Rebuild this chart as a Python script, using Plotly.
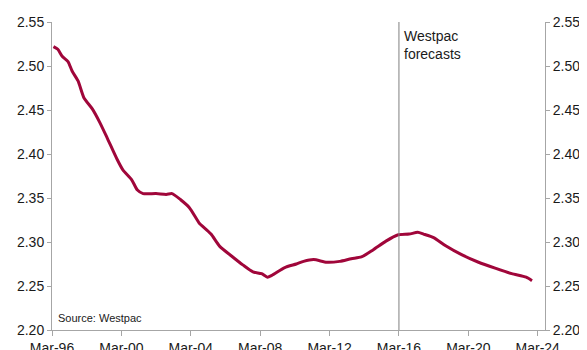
import plotly.graph_objects as go

dates = ["1996-04-01", "1996-07-01", "1996-10-01", "1997-02-01", "1997-05-01", "1997-09-01",
         "1998-01-01", "1998-07-01", "1998-12-01", "1999-05-01", "1999-12-01", "2000-04-01",
         "2000-10-01", "2001-02-01", "2001-06-01", "2002-03-01", "2002-10-01", "2003-02-01",
         "2003-08-01", "2004-02-01", "2004-09-01", "2004-11-01", "2005-05-01", "2005-11-01",
         "2006-08-01", "2007-03-01", "2007-10-01", "2008-04-01", "2008-08-01", "2008-11-01",
         "2009-08-01", "2010-04-01", "2010-09-01", "2011-04-01", "2012-01-01", "2012-10-01",
         "2013-06-01", "2014-01-01", "2014-09-01", "2015-06-01", "2016-02-01", "2016-10-01",
         "2017-04-01", "2017-08-01", "2018-03-01", "2018-11-01", "2019-11-01", "2020-10-01",
         "2021-10-01", "2022-09-01", "2023-07-01", "2023-11-01"]
values = [2.522, 2.519, 2.511, 2.505, 2.494, 2.483,
          2.464, 2.451, 2.436, 2.419, 2.394, 2.382,
          2.371, 2.359, 2.355, 2.355, 2.354, 2.355,
          2.348, 2.339, 2.321, 2.318, 2.309, 2.295,
          2.283, 2.274, 2.266, 2.264, 2.260, 2.262,
          2.271, 2.275, 2.278, 2.280, 2.277, 2.278,
          2.281, 2.283, 2.291, 2.301, 2.308, 2.309,
          2.311, 2.309, 2.305, 2.296, 2.285, 2.277,
          2.270, 2.264, 2.260, 2.256]

x_tickvals = ["1996-03-01", "2000-03-01", "2004-03-01", "2008-03-01",
              "2012-03-01", "2016-03-01", "2020-03-01", "2024-03-01"]
x_ticktext = ["Mar-96", "Mar-00", "Mar-04", "Mar-08", "Mar-12", "Mar-16", "Mar-20", "Mar-24"]
y_tickvals = [2.20, 2.25, 2.30, 2.35, 2.40, 2.45, 2.50, 2.55]
y_ticktext = ["2.20", "2.25", "2.30", "2.35", "2.40", "2.45", "2.50", "2.55"]
forecast_start = "2016-03-01"

LINE = "#A0063A"
AXIS = "#A6A6A6"
FAM = "Liberation Sans, Arial, sans-serif"
FONT = dict(family=FAM, size=14, color="#1a1a1a")

fig = go.Figure()
fig.add_trace(go.Scatter(x=dates, y=values, mode="lines",
                         line=dict(color=LINE, width=3, shape="spline", smoothing=0.6),
                         showlegend=False, hoverinfo="skip"))
fig.add_trace(go.Scatter(x=[dates[0]], y=[values[0]], yaxis="y2", mode="lines",
                         line=dict(width=0), showlegend=False, hoverinfo="skip"))

fig.add_shape(type="line", xref="x", yref="paper", x0=forecast_start, x1=forecast_start,
              y0=0, y1=1, line=dict(color="#7f7f7f", width=1))

fig.add_annotation(x=forecast_start, xref="x", y=2.546, yref="y", text="Westpac<br>forecasts",
                   showarrow=False, xanchor="left", yanchor="top", xshift=3, align="left",
                   font=dict(family=FAM, size=14, color="#1a1a1a"))
fig.add_annotation(x=0.008, xref="paper", y=2.204, yref="y", text="Source: Westpac",
                   showarrow=False, xanchor="left", yanchor="bottom",
                   font=dict(family=FAM, size=11, color="#1a1a1a"))

x_range = ["1996-03-01", "2024-08-01"]
axis_common = dict(showgrid=False, zeroline=False, showline=True, linecolor=AXIS, linewidth=1,
                   ticks="outside", tickcolor=AXIS, tickfont=FONT, automargin=False)
fig.update_layout(
    width=579, height=342,
    margin=dict(l=44, r=42, t=14, b=20),
    paper_bgcolor="white", plot_bgcolor="white",
    font=FONT,
    xaxis=dict(type="date", range=x_range, tickvals=x_tickvals, ticktext=x_ticktext,
               ticklen=5, **axis_common),
    yaxis=dict(range=[2.20, 2.55], tickvals=y_tickvals, ticktext=y_ticktext,
               ticklen=4, **axis_common),
    yaxis2=dict(range=[2.20, 2.55], tickvals=y_tickvals, ticktext=y_ticktext,
                overlaying="y", side="right", ticklen=4, **axis_common),
)

fig.write_html("out.html")
